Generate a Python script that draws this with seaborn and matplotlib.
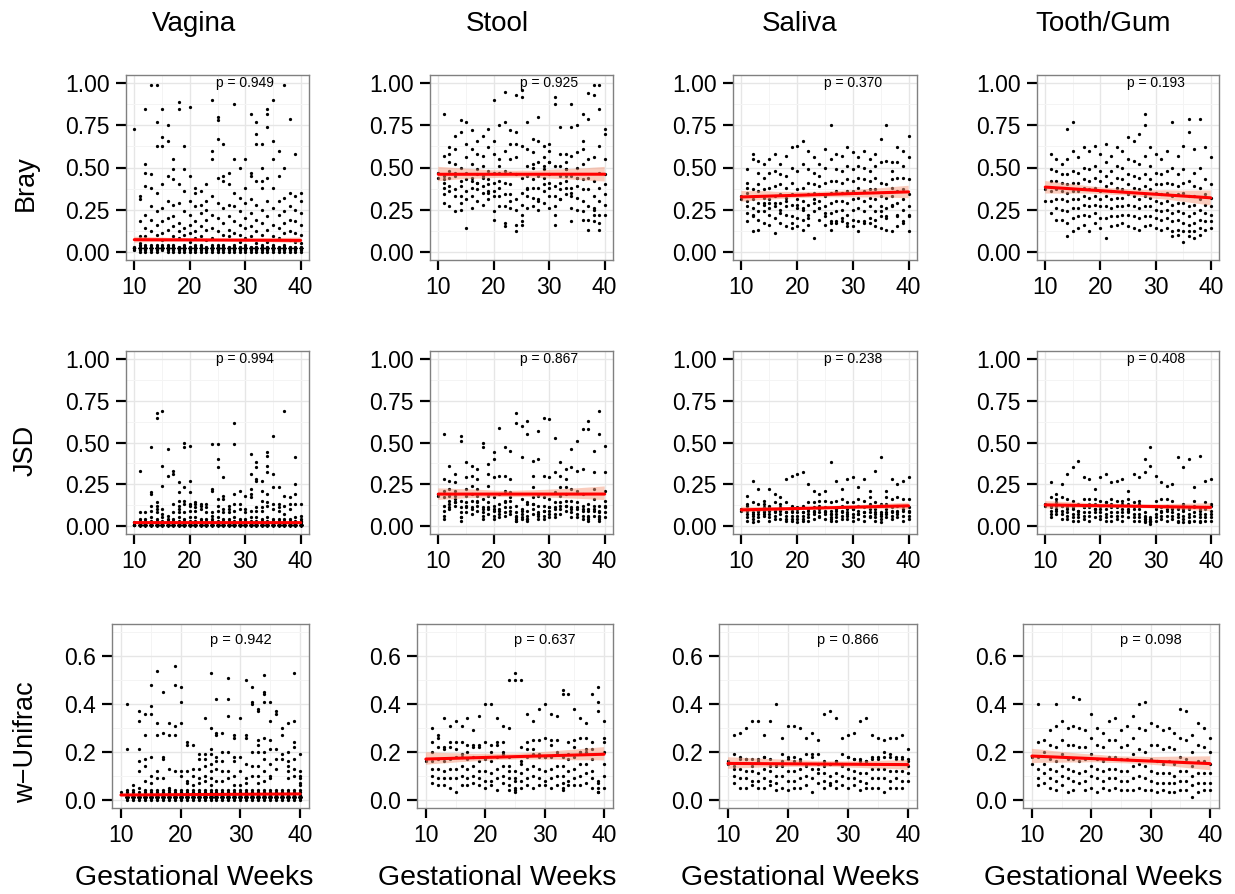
import matplotlib
matplotlib.use("Agg")
import matplotlib.pyplot as plt
from matplotlib.collections import PolyCollection
from matplotlib.ticker import FixedLocator, FormatStrFormatter
import pandas as pd
import seaborn as sns

WEEKS = list(range(10, 41))
SITES = ["Vagina", "Stool", "Saliva", "Tooth/Gum"]
METRICS = ["Bray", "JSD", "w\u2212Unifrac"]
P_VALUES = [["0.949", "0.925", "0.370", "0.193"],
            ["0.994", "0.867", "0.238", "0.408"],
            ["0.942", "0.637", "0.866", "0.098"]]

# distances in hundredths, one inner list per gestational week (10..40)
vagina_bray = [
    [73, 3, 1], [33, 31, 18, 9, 5, 3, 1, 2, 0, 4], [85, 52, 47, 39, 22, 14, 9, 4, 2, 1, 3, 0],
    [99, 46, 38, 27, 19, 12, 3, 1, 0, 2, 4], [99, 77, 63, 35, 24, 16, 10, 2, 1, 3, 0, 4],
    [85, 68, 63, 40, 26, 18, 11, 7, 3, 1, 2, 4], [75, 66, 45, 30, 20, 13, 4, 1, 2, 0, 3],
    [55, 49, 43, 28, 21, 15, 9, 3, 2, 1, 0, 4], [89, 85, 40, 29, 17, 12, 8, 2, 1, 3, 0],
    [63, 49, 36, 24, 14, 10, 3, 1, 2, 0, 4], [86, 45, 30, 22, 16, 11, 6, 2, 1, 0, 3],
    [38, 35, 27, 18, 12, 8, 3, 2, 1, 0, 4], [36, 28, 23, 15, 9, 4, 2, 1, 0, 3],
    [40, 30, 25, 19, 13, 7, 2, 1, 3, 0], [90, 60, 55, 33, 22, 14, 8, 3, 1, 2, 0, 4],
    [80, 78, 67, 44, 29, 20, 12, 4, 2, 1, 3, 0], [64, 45, 42, 26, 17, 10, 3, 1, 2, 0, 4],
    [47, 40, 28, 21, 13, 9, 2, 1, 3, 0], [88, 55, 35, 27, 18, 11, 4, 2, 1, 0, 3],
    [50, 32, 24, 16, 10, 6, 2, 1, 0, 3], [55, 38, 29, 20, 14, 8, 3, 1, 2, 0, 4],
    [82, 47, 45, 31, 23, 15, 9, 2, 1, 3, 0], [77, 70, 64, 42, 28, 19, 12, 5, 1, 2, 0, 3],
    [64, 50, 42, 38, 25, 17, 10, 3, 2, 1, 0, 4], [85, 82, 74, 44, 30, 21, 13, 6, 2, 1, 3, 0],
    [90, 66, 55, 38, 26, 16, 9, 3, 1, 2, 0, 4], [60, 45, 30, 22, 14, 8, 2, 1, 3, 0],
    [99, 50, 32, 24, 17, 11, 4, 2, 1, 0, 3], [79, 35, 27, 19, 12, 7, 2, 1, 0, 3],
    [58, 33, 25, 18, 11, 6, 3, 1, 2, 0], [35, 30, 23, 16, 10, 5, 2, 1, 0, 3],
]
# overplotted samples hidden in the dense band at the floor, per week
vagina_bray_stack = [4, 28, 36, 32, 38, 40, 33, 30, 37, 30, 34, 24, 18, 22, 38, 42,
                     30, 26, 34, 24, 28, 36, 40, 36, 42, 38, 28, 34, 28, 26, 20]

stool_bray = [
    [47, 44], [82, 57, 45, 41, 38, 34, 29, 43], [62, 53, 48, 44, 39, 36, 27, 58],
    [69, 61, 52, 47, 37, 33, 24, 45], [78, 71, 50, 39, 33, 29, 25, 42],
    [64, 56, 47, 43, 36, 31, 14, 77], [72, 61, 52, 44, 38, 33, 26, 42],
    [66, 58, 49, 46, 41, 37, 30, 41], [69, 57, 51, 44, 39, 35, 28, 45],
    [73, 62, 48, 43, 40, 36, 31, 35], [90, 66, 58, 47, 41, 36, 33, 24, 19],
    [75, 55, 47, 42, 38, 33, 27, 51], [95, 77, 60, 48, 41, 34, 27, 17, 15],
    [72, 64, 55, 47, 40, 34, 30, 26], [93, 71, 64, 56, 46, 31, 25, 16, 12],
    [96, 92, 63, 44, 35, 28, 22, 18, 16], [77, 61, 51, 45, 38, 33, 26, 37],
    [67, 59, 50, 43, 38, 32, 27, 52], [80, 66, 53, 45, 38, 31, 25, 30],
    [63, 56, 49, 44, 40, 36, 29, 51], [64, 60, 53, 46, 41, 38, 33, 26, 53],
    [92, 88, 51, 39, 33, 27, 22, 16], [74, 58, 51, 45, 41, 37, 31, 31],
    [58, 53, 49, 45, 42, 38, 34, 49], [88, 74, 57, 45, 38, 33, 26, 18, 35],
    [75, 59, 50, 44, 39, 32, 25, 44], [82, 66, 52, 43, 37, 30, 24, 19, 61],
    [94, 79, 55, 44, 37, 27, 19, 13], [99, 93, 56, 42, 33, 25, 22, 18, 26],
    [99, 85, 63, 47, 38, 30, 22, 17, 13], [73, 70, 55, 46, 40, 34, 28, 22],
]

saliva_bray = [
    [33, 31], [49, 41, 35, 30, 27, 23, 18, 38], [58, 55, 37, 31, 26, 21, 12, 22],
    [47, 40, 36, 29, 24, 19, 13, 54], [52, 44, 37, 32, 28, 24, 17, 29],
    [55, 47, 38, 31, 26, 22, 16, 29], [58, 48, 39, 33, 27, 20, 11, 29],
    [52, 46, 40, 34, 29, 25, 17, 23], [57, 45, 38, 32, 27, 22, 15, 30],
    [62, 50, 41, 34, 28, 21, 14, 17], [63, 48, 37, 31, 26, 20, 15, 28],
    [66, 52, 38, 30, 25, 19, 13, 26], [60, 49, 41, 34, 28, 22, 16, 20],
    [56, 47, 40, 35, 29, 24, 8, 31], [52, 45, 39, 34, 30, 26, 19, 26],
    [61, 50, 41, 33, 27, 21, 16, 23], [75, 55, 42, 35, 29, 23, 17, 13, 18],
    [58, 49, 42, 36, 30, 24, 17, 18], [57, 48, 41, 35, 30, 25, 18, 20],
    [62, 51, 43, 36, 29, 22, 15, 17], [59, 49, 42, 36, 31, 25, 19, 15],
    [56, 51, 44, 38, 32, 26, 18, 12], [60, 50, 43, 36, 30, 24, 17, 18],
    [55, 48, 42, 37, 32, 27, 20, 17], [58, 51, 44, 37, 31, 24, 15, 19],
    [67, 53, 41, 33, 27, 21, 14, 24], [75, 54, 40, 32, 26, 20, 13, 21],
    [53, 48, 43, 38, 33, 28, 12, 27], [62, 53, 44, 36, 29, 22, 15, 21],
    [60, 51, 44, 37, 31, 25, 17, 18], [69, 56, 43, 34, 27, 21, 12, 22],
]

tooth_bray = [
    [37, 30], [58, 49, 42, 36, 30, 23], [55, 48, 42, 37, 31, 26, 19],
    [52, 46, 41, 36, 31, 25, 19], [73, 55, 46, 40, 35, 30, 24, 17, 9],
    [77, 60, 48, 41, 36, 31, 26, 20, 12], [56, 47, 41, 36, 31, 26, 21, 14],
    [62, 50, 43, 38, 33, 28, 22, 16], [60, 49, 42, 37, 32, 27, 21, 12],
    [63, 51, 44, 38, 33, 28, 23, 17], [58, 48, 42, 36, 31, 27, 20, 14],
    [64, 53, 45, 39, 33, 27, 20, 8], [57, 48, 41, 36, 31, 26, 21, 15],
    [62, 51, 44, 38, 32, 27, 21, 16], [60, 50, 43, 37, 32, 27, 22, 17],
    [68, 55, 46, 40, 34, 28, 22, 15], [66, 54, 45, 38, 33, 27, 21, 14],
    [70, 52, 44, 37, 31, 26, 20, 13], [82, 75, 57, 46, 39, 33, 27, 21, 15],
    [62, 51, 43, 37, 32, 27, 21, 16], [58, 47, 40, 35, 30, 25, 20, 14],
    [55, 46, 40, 34, 29, 24, 19, 13], [60, 48, 41, 35, 30, 25, 20, 14],
    [77, 50, 40, 33, 28, 23, 18, 12, 9], [57, 46, 39, 34, 29, 24, 19, 13, 10],
    [63, 49, 41, 35, 29, 23, 17, 12, 6], [79, 71, 42, 33, 27, 21, 16, 12, 9],
    [61, 47, 39, 33, 28, 23, 17, 12, 8], [79, 50, 38, 31, 25, 19, 14, 10],
    [62, 43, 34, 28, 23, 18, 13], [56, 40, 32, 27, 22, 18, 14],
]

vagina_jsd = [
    [2], [33, 8, 4, 3, 2, 1], [8, 4, 3, 2, 1], [47, 20, 19, 12, 9, 5, 3, 2, 1],
    [68, 65, 14, 12, 10, 8, 4, 3, 2, 1], [69, 36, 24, 10, 7, 5, 3, 2, 1],
    [46, 30, 6, 4, 3, 2, 1], [33, 31, 13, 8, 4, 3, 2, 1],
    [26, 20, 15, 12, 10, 8, 5, 3, 2, 1], [50, 47, 23, 15, 13, 8, 4, 3, 2, 1],
    [48, 27, 20, 13, 12, 9, 5, 3, 2, 1], [14, 13, 11, 9, 5, 3, 2, 1],
    [13, 12, 10, 4, 3, 2, 1], [13, 11, 8, 4, 3, 2, 1], [49, 22, 21, 8, 6, 4, 3, 2, 1],
    [49, 40, 35, 16, 12, 9, 5, 3, 2, 1], [29, 18, 16, 10, 8, 4, 3, 2, 1],
    [12, 10, 8, 4, 3, 2, 1], [62, 49, 19, 13, 9, 5, 3, 2, 1], [21, 13, 10, 4, 3, 2, 1],
    [18, 10, 8, 4, 3, 2, 1], [43, 31, 22, 19, 17, 9, 5, 3, 2, 1],
    [38, 35, 28, 27, 11, 9, 5, 3, 2, 1], [27, 21, 15, 11, 9, 4, 3, 2, 1],
    [44, 42, 36, 32, 19, 14, 12, 5, 3, 2, 1], [54, 31, 23, 13, 10, 4, 3, 2, 1],
    [23, 13, 11, 9, 4, 3, 2, 1], [69, 18, 12, 7, 4, 3, 2, 1], [17, 13, 10, 4, 3, 2, 1],
    [41, 25, 19, 13, 5, 3, 2, 1], [13, 6, 4, 3, 2, 1],
]
vagina_jsd_stack = [5, 60, 58, 66, 72, 70, 62, 64, 68, 70, 68, 60, 58, 60, 66, 72,
                    64, 60, 68, 62, 60, 70, 72, 66, 74, 68, 62, 66, 60, 64, 56]

stool_jsd = [
    [19, 18], [55, 28, 17, 12, 9, 6, 4, 21], [36, 27, 22, 18, 15, 13, 10, 11],
    [31, 26, 21, 18, 16, 14, 12, 14], [54, 51, 15, 11, 8, 5, 3, 5],
    [38, 29, 22, 18, 14, 11, 8, 12], [36, 30, 24, 19, 15, 11, 7, 10],
    [34, 28, 22, 18, 15, 12, 9, 14], [50, 47, 16, 11, 8, 6, 4, 10],
    [37, 31, 24, 18, 14, 11, 7, 10], [44, 40, 29, 17, 12, 9, 6, 4, 10],
    [59, 30, 19, 13, 9, 7, 5, 10], [47, 30, 21, 15, 11, 8, 6, 14],
    [45, 28, 20, 15, 11, 9, 7, 17], [68, 62, 12, 8, 6, 5, 4, 3, 3],
    [60, 41, 16, 10, 7, 5, 4, 9], [63, 55, 14, 9, 6, 4, 3, 4, 13],
    [39, 30, 23, 17, 13, 10, 7, 13], [57, 40, 18, 12, 8, 6, 4, 7],
    [65, 30, 17, 12, 9, 6, 4, 9], [64, 29, 16, 11, 9, 7, 5, 11],
    [53, 32, 20, 14, 10, 7, 5, 11], [38, 30, 23, 18, 14, 10, 7, 12],
    [34, 28, 23, 19, 15, 12, 9, 12], [46, 35, 22, 15, 11, 8, 5, 10],
    [51, 33, 21, 14, 10, 7, 5, 11], [58, 34, 19, 12, 9, 6, 4, 10],
    [63, 58, 13, 9, 6, 4, 3, 5, 10], [45, 32, 22, 16, 12, 9, 6, 10],
    [69, 55, 12, 8, 6, 4, 3, 5, 9], [48, 32, 21, 15, 11, 8, 5, 12],
]

saliva_jsd = [
    [10, 9], [18, 12, 9, 7, 5, 3, 13], [27, 14, 8, 6, 4, 2, 7], [22, 13, 9, 7, 5, 3, 9],
    [15, 13, 11, 9, 8, 6, 7], [22, 12, 9, 7, 5, 3, 11], [19, 14, 10, 8, 6, 4, 9],
    [17, 13, 11, 9, 7, 4, 10], [28, 14, 8, 6, 4, 3, 8], [30, 12, 8, 6, 4, 3, 9],
    [31, 11, 8, 6, 4, 2, 10], [32, 12, 8, 6, 4, 3, 8], [25, 14, 9, 7, 5, 3, 10],
    [21, 14, 11, 9, 7, 4, 8], [19, 15, 12, 10, 8, 5, 6], [21, 15, 11, 9, 7, 4, 8],
    [38, 14, 9, 7, 5, 3, 4, 7], [27, 15, 10, 7, 5, 3, 9], [22, 16, 12, 9, 6, 4, 8],
    [28, 14, 10, 8, 6, 4, 7], [29, 14, 10, 7, 5, 3, 10], [23, 16, 12, 9, 7, 4, 7],
    [28, 15, 11, 8, 6, 3, 8], [21, 17, 13, 10, 8, 5, 6], [33, 14, 10, 7, 5, 3, 8],
    [41, 13, 8, 6, 4, 2, 7], [21, 17, 13, 10, 8, 5, 7], [28, 16, 11, 8, 6, 4, 9],
    [25, 17, 12, 9, 7, 5, 8], [27, 16, 12, 9, 6, 3, 10], [29, 16, 11, 8, 6, 4, 9],
]

tooth_jsd = [
    [13, 12], [26, 17, 12, 9, 7, 5, 11], [19, 16, 14, 12, 10, 7, 9], [25, 17, 12, 9, 7, 4, 12],
    [31, 16, 11, 8, 6, 4, 10], [35, 15, 10, 7, 5, 3, 11], [39, 13, 9, 7, 5, 3, 9],
    [29, 16, 11, 8, 6, 4, 11], [28, 16, 11, 8, 6, 3, 13], [22, 16, 13, 10, 8, 5, 10],
    [29, 15, 10, 8, 6, 4, 12], [31, 14, 10, 7, 5, 3, 14], [26, 16, 11, 8, 6, 3, 13],
    [27, 15, 11, 8, 6, 4, 12], [28, 15, 10, 8, 6, 3, 13], [21, 16, 13, 10, 8, 5, 9],
    [31, 14, 10, 7, 5, 3, 12], [29, 15, 10, 7, 5, 3, 13], [40, 32, 8, 5, 4, 3, 2, 6, 4],
    [47, 36, 5, 3, 2, 1, 4, 3, 3], [30, 15, 10, 7, 5, 3, 11], [26, 16, 11, 8, 6, 4, 9],
    [24, 16, 12, 9, 6, 3, 10], [25, 15, 11, 8, 6, 4, 10], [41, 11, 7, 5, 3, 2, 10],
    [35, 13, 9, 6, 4, 2, 10], [40, 11, 7, 5, 3, 2, 10], [23, 15, 11, 8, 6, 3, 12],
    [42, 10, 7, 5, 3, 2, 9], [27, 14, 10, 7, 5, 3, 11], [28, 13, 9, 7, 5, 3, 12],
]

vagina_unifrac = [
    [3], [40, 21, 4, 3, 2, 1, 0], [6, 4, 3, 2, 1, 0], [37, 33, 21, 16, 12, 5, 3, 2, 1, 0],
    [36, 27, 17, 14, 8, 4, 3, 2, 1, 0], [48, 39, 36, 18, 10, 7, 4, 3, 2, 1, 0],
    [54, 32, 27, 12, 9, 4, 3, 2, 1, 0], [45, 28, 18, 17, 9, 4, 3, 2, 1, 0],
    [32, 27, 13, 5, 4, 3, 2, 1, 0], [56, 48, 31, 27, 12, 4, 3, 2, 1, 0],
    [47, 41, 32, 12, 10, 4, 3, 2, 1, 0], [24, 23, 12, 8, 7, 4, 3, 2, 1, 0],
    [23, 13, 10, 6, 4, 3, 2, 1, 0], [19, 17, 13, 9, 7, 4, 3, 2, 1, 0],
    [34, 19, 17, 14, 10, 8, 4, 3, 2, 1, 0], [53, 30, 21, 19, 15, 12, 9, 6, 4, 3, 2, 1, 0],
    [42, 28, 27, 18, 16, 13, 8, 4, 3, 2, 1, 0], [28, 20, 16, 12, 8, 4, 3, 2, 1, 0],
    [51, 42, 35, 20, 12, 9, 4, 3, 2, 1, 0], [27, 26, 18, 16, 10, 6, 4, 3, 2, 1, 0],
    [34, 18, 12, 6, 4, 3, 2, 1, 0], [50, 27, 26, 15, 9, 7, 4, 3, 2, 1, 0],
    [47, 41, 40, 20, 14, 10, 4, 3, 2, 1, 0], [38, 37, 25, 23, 20, 14, 10, 7, 4, 3, 2, 1, 0],
    [52, 45, 44, 41, 26, 20, 17, 12, 8, 4, 3, 2, 1, 0], [41, 33, 25, 21, 15, 10, 9, 4, 3, 2, 1, 0],
    [37, 36, 21, 17, 13, 4, 3, 2, 1, 0], [30, 27, 19, 17, 4, 3, 2, 1, 0],
    [32, 20, 16, 14, 12, 9, 4, 3, 2, 1, 0], [53, 33, 24, 22, 17, 13, 10, 4, 3, 2, 1, 0],
    [19, 12, 10, 9, 7, 6, 4, 3, 2, 1, 0],
]
vagina_unifrac_stack = [0, 86, 80, 92, 90, 96, 92, 90, 86, 96, 94, 88, 84, 86, 90, 98,
                        94, 88, 96, 90, 86, 94, 98, 96, 100, 94, 90, 88, 90, 96, 86]

stool_unifrac = [
    [17, 16], [24, 20, 16, 13, 10, 7, 30], [27, 22, 17, 13, 9, 6, 26], [34, 22, 16, 12, 9, 6, 21],
    [31, 22, 17, 13, 9, 5, 24], [33, 24, 18, 13, 9, 3, 21], [31, 24, 19, 14, 10, 6, 18],
    [34, 23, 17, 13, 9, 6, 20], [29, 23, 18, 14, 10, 7, 22], [35, 22, 16, 12, 9, 6, 23],
    [40, 24, 17, 12, 8, 5, 18], [40, 23, 16, 11, 8, 6, 20], [34, 24, 18, 13, 9, 4, 23],
    [31, 24, 19, 14, 10, 7, 20], [50, 30, 18, 12, 9, 4, 6, 14], [53, 50, 12, 8, 5, 4, 3, 9],
    [50, 22, 15, 11, 8, 5, 16], [36, 24, 18, 13, 9, 6, 21], [33, 25, 19, 14, 10, 5, 21],
    [38, 25, 18, 13, 9, 6, 19], [40, 26, 18, 12, 8, 6, 18], [36, 25, 18, 13, 9, 5, 23],
    [35, 25, 19, 14, 10, 6, 20], [46, 44, 14, 10, 7, 5, 4, 18], [44, 24, 17, 12, 8, 6, 19],
    [38, 25, 18, 13, 9, 6, 22], [34, 26, 20, 15, 10, 6, 20], [32, 26, 21, 15, 11, 7, 20],
    [44, 24, 17, 12, 9, 5, 21], [47, 41, 37, 8, 5, 3, 3, 7], [33, 26, 20, 15, 10, 5, 24],
]

saliva_unifrac = [
    [15, 16], [27, 19, 14, 10, 7, 13], [28, 18, 13, 9, 5, 17], [30, 17, 12, 9, 5, 17],
    [33, 17, 12, 8, 6, 14], [33, 16, 11, 8, 5, 17], [27, 18, 13, 9, 5, 18],
    [33, 17, 12, 8, 6, 14], [40, 15, 10, 7, 4, 14], [26, 19, 14, 10, 5, 16],
    [31, 17, 12, 8, 4, 18], [31, 18, 12, 8, 5, 16], [30, 17, 13, 9, 5, 16],
    [26, 19, 14, 10, 6, 15], [28, 18, 13, 9, 3, 19], [25, 19, 15, 11, 7, 13],
    [36, 16, 11, 8, 5, 14], [37, 15, 10, 7, 6, 15], [34, 16, 11, 8, 5, 16],
    [26, 19, 14, 10, 6, 15], [27, 18, 13, 9, 5, 18], [28, 17, 12, 9, 6, 17],
    [33, 16, 11, 8, 4, 17], [34, 16, 11, 7, 5, 16], [27, 18, 13, 9, 5, 17],
    [26, 18, 13, 9, 5, 17], [25, 18, 13, 9, 3, 20], [26, 18, 12, 8, 5, 19],
    [26, 17, 12, 9, 5, 18], [27, 17, 12, 8, 5, 18], [21, 17, 14, 11, 8, 16],
]

tooth_unifrac = [
    [18, 15], [40, 24, 18, 13, 9, 6], [25, 20, 15, 11, 7], [29, 23, 17, 13, 9, 5],
    [40, 31, 22, 16, 12, 8, 4], [33, 25, 19, 14, 10, 6], [30, 23, 17, 13, 9, 3],
    [43, 31, 23, 17, 12, 8, 4], [42, 30, 22, 16, 11, 7], [29, 22, 17, 12, 8, 4],
    [36, 26, 19, 14, 10, 5], [30, 23, 17, 13, 9, 3], [28, 22, 16, 12, 8, 5],
    [33, 25, 18, 13, 9, 4], [34, 25, 18, 13, 9, 5], [29, 22, 17, 12, 8, 4],
    [31, 23, 17, 12, 8, 4], [35, 26, 19, 14, 9, 4], [40, 30, 21, 15, 10, 5],
    [41, 29, 20, 14, 9, 4], [32, 23, 17, 12, 8, 4], [31, 23, 16, 11, 7, 3],
    [29, 21, 15, 11, 7, 4], [30, 22, 16, 11, 7, 3], [28, 21, 15, 10, 7, 3],
    [38, 26, 18, 12, 8, 4], [37, 25, 17, 12, 8, 4], [27, 20, 14, 10, 6, 1],
    [32, 23, 16, 11, 7, 3], [30, 22, 16, 11, 7, 4], [26, 20, 15, 11, 7, 4],
]

PANELS = [
    [(vagina_bray, vagina_bray_stack, 0.02), (stool_bray, None, 0), (saliva_bray, None, 0), (tooth_bray, None, 0)],
    [(vagina_jsd, vagina_jsd_stack, 0.005), (stool_jsd, None, 0), (saliva_jsd, None, 0), (tooth_jsd, None, 0)],
    [(vagina_unifrac, vagina_unifrac_stack, 0.01), (stool_unifrac, None, 0), (saliva_unifrac, None, 0), (tooth_unifrac, None, 0)],
]


def to_frame(values, stack, level):
    rows = []
    for i, wk in enumerate(WEEKS):
        rows += [(wk, v / 100) for v in values[i]]
        if stack is not None:
            rows += [(wk, level)] * stack[i]
    return pd.DataFrame(rows, columns=["week", "value"])


sns.set_theme(style="white")
plt.rcParams["font.family"] = ["Liberation Sans", "DejaVu Sans"]
plt.rcParams["text.color"] = "black"
plt.rcParams["axes.labelcolor"] = "black"

W, H = 1235, 894
fig = plt.figure(figsize=(W / 100, H / 100), dpi=100)

col_left = [[126, 430, 733, 1037], [126, 430, 733, 1037], [112, 417, 719, 1023]]
col_right = [309, 613, 917, 1219]
row_span = [(75, 260), (351, 534), (624, 808)]
col_center = [194, 497, 800, 1103]
row_label_y = [183, 450, 742]

for r in range(3):
    top, bot = row_span[r]
    for c in range(4):
        left = col_left[r][c]
        ax = fig.add_axes([left / W, 1 - bot / H, (col_right[c] - left) / W, (bot - top) / H])
        values, stack, level = PANELS[r][c]
        df = to_frame(values, stack, level)

        sns.scatterplot(data=df, x="week", y="value", ax=ax, color="black",
                        s=5.5, linewidth=0, zorder=2)
        ax.set_xlim(10, 40)
        sns.regplot(data=df, x="week", y="value", ax=ax, scatter=False, truncate=False,
                    color="red", n_boot=300, seed=0, line_kws={"linewidth": 2.2, "zorder": 4})
        for coll in ax.collections:
            if isinstance(coll, PolyCollection):
                coll.set_facecolor("#F79B7D")
                coll.set_alpha(0.5)
                coll.set_edgecolor("none")
                coll.set_zorder(3)

        ax.set_xlim(8.5, 41.5)
        ax.xaxis.set_major_locator(FixedLocator([10, 20, 30, 40]))
        ax.xaxis.set_minor_locator(FixedLocator([15, 25, 35]))
        if r < 2:
            ax.set_ylim(-0.05, 1.05)
            ax.yaxis.set_major_locator(FixedLocator([0, 0.25, 0.5, 0.75, 1.0]))
            ax.yaxis.set_minor_locator(FixedLocator([0.125, 0.375, 0.625, 0.875]))
            ax.yaxis.set_major_formatter(FormatStrFormatter("%.2f"))
            ptxt_y, ptxt_size = 1.0, 10
        else:
            ax.set_ylim(-0.035, 0.735)
            ax.yaxis.set_major_locator(FixedLocator([0, 0.2, 0.4, 0.6]))
            ax.yaxis.set_minor_locator(FixedLocator([0.1, 0.3, 0.5, 0.7]))
            ax.yaxis.set_major_formatter(FormatStrFormatter("%.1f"))
            ptxt_y, ptxt_size = 0.67, 10.5

        ax.set_facecolor("white")
        ax.grid(which="major", color="#e6e6e6", linewidth=1.0)
        ax.grid(which="minor", color="#f4f4f4", linewidth=0.7)
        ax.set_axisbelow(True)
        for sp in ax.spines.values():
            sp.set_visible(True)
            sp.set_color("#808080")
            sp.set_linewidth(1.0)
        ax.tick_params(which="major", direction="out", length=7.5, width=1.6,
                       color="black", labelsize=16.5, labelcolor="black", pad=4,
                       bottom=True, left=True)
        ax.tick_params(which="minor", length=0)
        ax.set_xlabel("")
        ax.set_ylabel("")
        ax.text(30, ptxt_y, "p = " + P_VALUES[r][c], ha="center", va="center",
                fontsize=ptxt_size, color="black", zorder=5)

for c, site in enumerate(SITES):
    fig.text(col_center[c] / W, 1 - 24 / H, site, ha="center", va="center",
             fontsize=20, color="black")
    fig.text(col_center[c] / W, 1 - 878 / H, "Gestational Weeks", ha="center",
             va="center", fontsize=20.5, color="black")
for r, metric in enumerate(METRICS):
    fig.text(26 / W, 1 - row_label_y[r] / H, metric, ha="center", va="center",
             rotation=90, fontsize=19.5, color="black")

fig.savefig("out.png", dpi=100)
